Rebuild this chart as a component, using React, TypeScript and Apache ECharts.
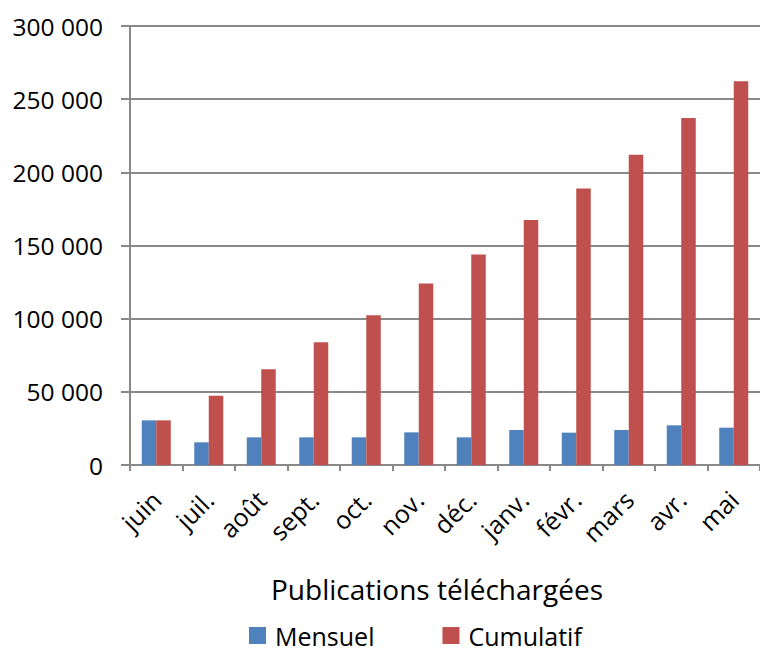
import React, { useEffect, useRef } from "react";
import * as echarts from "echarts";

const months = ["juin", "juil.", "août", "sept.", "oct.", "nov.", "déc.", "janv.", "févr.", "mars", "avr.", "mai"];
const mensuel = [30500, 15500, 18900, 18900, 18900, 22300, 18900, 23900, 22100, 23900, 27100, 25500];
const cumulatif = [30500, 47300, 65500, 83900, 102300, 124000, 143900, 167400, 188900, 212100, 237200, 262200];
const seriesNames = ["Mensuel", "Cumulatif"];
const axisTitle = "Publications téléchargées";

const FONT = "'Open Sans', sans-serif";
const AXIS_COLOR = "#898989";

const fmt = (v: number) => String(v).replace(/\B(?=(\d{3})+(?!\d))/g, " ");

export default function App() {
  const ref = useRef<HTMLDivElement>(null);
  useEffect(() => {
    if (!ref.current) return;
    const chart = echarts.init(ref.current, undefined, { renderer: "svg" });
    chart.setOption({
      animation: false,
      backgroundColor: "#ffffff",
      textStyle: { fontFamily: FONT },
      grid: { left: 130, right: 0, top: 26, bottom: 188 },
      legend: {
        bottom: 0,
        left: 244,
        icon: "rect",
        itemWidth: 17,
        itemHeight: 17,
        itemGap: 68,
        textStyle: { fontSize: 25, color: "#000", fontFamily: FONT, padding: [0, 0, 0, 4] },
        data: seriesNames,
      },
      xAxis: {
        type: "category",
        data: months,
        boundaryGap: true,
        name: axisTitle,
        nameLocation: "middle",
        nameGap: 110,
        nameTextStyle: { fontSize: 28, color: "#000", fontFamily: FONT, padding: [0, 16, 0, 0] },
        axisLine: { lineStyle: { color: AXIS_COLOR, width: 2 } },
        axisTick: { show: true, length: 6, alignWithLabel: false, lineStyle: { color: AXIS_COLOR, width: 2 } },
        axisLabel: { rotate: 45, margin: 30, fontSize: 25, color: "#000", fontFamily: FONT, interval: 0 },
        splitLine: { show: false },
      },
      yAxis: {
        type: "value",
        min: 0,
        max: 300000,
        interval: 50000,
        axisLine: { show: true, lineStyle: { color: AXIS_COLOR, width: 2 } },
        axisTick: { show: true, length: 9, lineStyle: { color: AXIS_COLOR, width: 2 } },
        axisLabel: { margin: 27, fontSize: 24.5, color: "#000", fontFamily: FONT, formatter: fmt },
        splitLine: { show: true, lineStyle: { color: AXIS_COLOR, width: 2 } },
      },
      series: [
        {
          name: seriesNames[0],
          type: "bar",
          data: mensuel,
          barWidth: 14.5,
          barGap: "0%",
          itemStyle: { color: "#4F81BD" },
        },
        {
          name: seriesNames[1],
          type: "bar",
          data: cumulatif,
          barWidth: 14.5,
          barGap: "0%",
          itemStyle: { color: "#C0504D" },
        },
      ],
    });
    return () => chart.dispose();
  }, []);
  return (
    <div
      ref={ref}
      style={{ position: "fixed", left: 0, top: 0, width: 760, height: 653, background: "#fff" }}
    />
  );
}
